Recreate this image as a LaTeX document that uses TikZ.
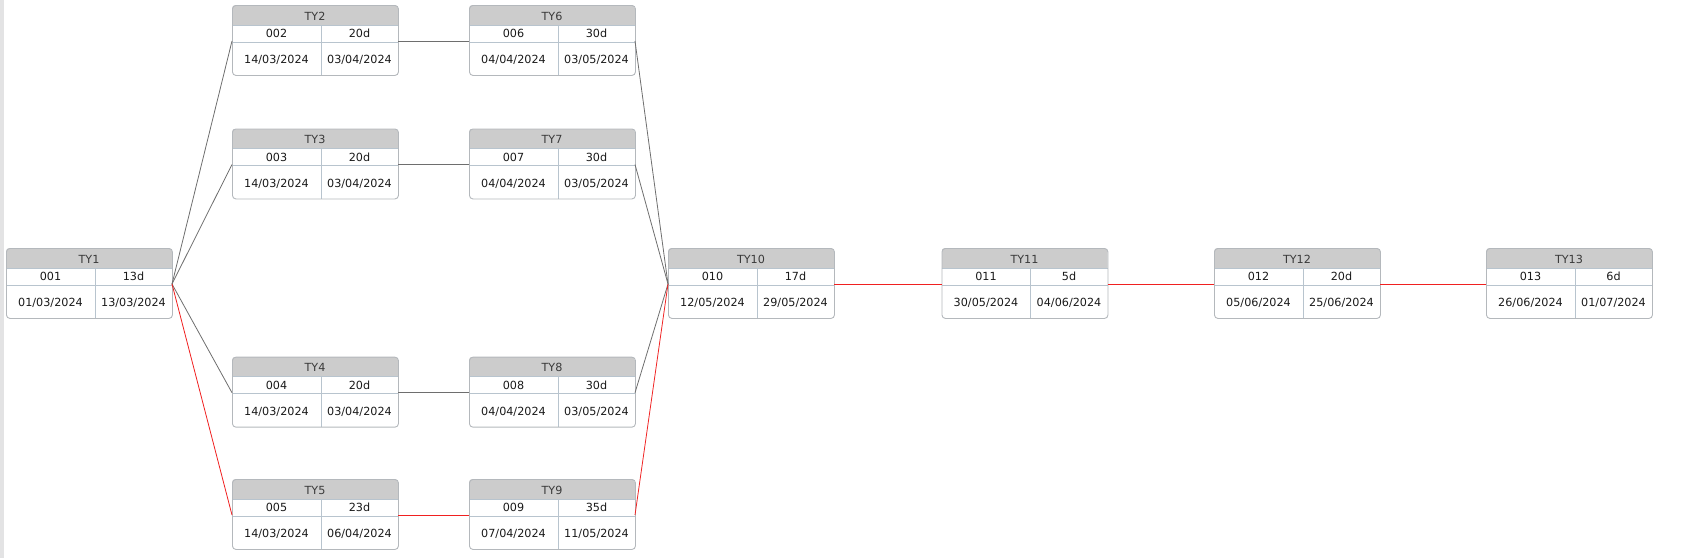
\documentclass[tikz,border=0pt]{standalone}
\usepackage{fontspec}
\setmainfont{DejaVu Sans}
\definecolor{hdrfill}{HTML}{CCCCCC}
\definecolor{framecol}{HTML}{B4B8BC}
\definecolor{divcol}{HTML}{B8C4CE}
\definecolor{txtcol}{HTML}{1A1A1A}
\definecolor{hdrtxt}{HTML}{3A3A3A}
\definecolor{linkgray}{HTML}{6E6E6E}
\definecolor{linkred}{HTML}{F02020}
\definecolor{stripcol}{HTML}{E3E3E4}
\tikzset{
  taskframe/.style={draw=framecol, line width=0.9pt, rounded corners=3.5pt, inner sep=0pt,
    minimum width=166pt, minimum height=70pt, anchor=north west},
  divline/.style={draw=divcol, line width=0.9pt},
  celltext/.style={font=\fontsize{11.2}{12}\selectfont, text=txtcol, inner sep=0pt},
  headtext/.style={font=\fontsize{11.2}{12}\selectfont, text=hdrtxt, inner sep=0pt},
  graylink/.style={draw=linkgray, line width=0.8pt},
  redlink/.style={draw=linkred, line width=0.8pt},
}
\newcommand{\taskbox}[8]{%
  \begin{scope}
    \clip[rounded corners=3.5pt] (#2,#3) rectangle ++(166,70);
    \fill[white] (#2,#3) rectangle ++(166,70);
    \fill[hdrfill] (#2,#3) rectangle ++(166,20);
  \end{scope}
  \draw[divline] (#2,#3+20) -- ++(166,0);
  \draw[divline] (#2,#3+37) -- ++(166,0);
  \draw[divline] (#2+89,#3+20) -- ++(0,50);
  \node[taskframe] (#1) at (#2,#3) {};
  \node[headtext] (#1-t) at (#2+83,#3+11) {#4};
  \node[celltext] (#1-id) at (#2+44.5,#3+28.7) {#5};
  \node[celltext] (#1-d) at (#2+127.5,#3+28.7) {#6};
  \node[celltext] (#1-s) at (#2+44.5,#3+55.2) {#7};
  \node[celltext] (#1-e) at (#2+127.5,#3+55.2) {#8};
  \coordinate (#1-in) at (#2,#3+36);
  \coordinate (#1-out) at (#2+166,#3+36);
}
\begin{document}
\begin{tikzpicture}[x=1pt,y=-1pt]
  \useasboundingbox (0,0) rectangle (1685,558);
  \fill[stripcol] (0,0) rectangle (4,558);

  \taskbox{t1}{6}{248}{TY1}{001}{13d}{01/03/2024}{13/03/2024}
  \taskbox{t2}{232}{5}{TY2}{002}{20d}{14/03/2024}{03/04/2024}
  \taskbox{t3}{232}{128.5}{TY3}{003}{20d}{14/03/2024}{03/04/2024}
  \taskbox{t4}{232}{356.7}{TY4}{004}{20d}{14/03/2024}{03/04/2024}
  \taskbox{t5}{232}{479}{TY5}{005}{23d}{14/03/2024}{06/04/2024}
  \taskbox{t6}{469}{5}{TY6}{006}{30d}{04/04/2024}{03/05/2024}
  \taskbox{t7}{469}{128.5}{TY7}{007}{30d}{04/04/2024}{03/05/2024}
  \taskbox{t8}{469}{356.7}{TY8}{008}{30d}{04/04/2024}{03/05/2024}
  \taskbox{t9}{469}{479}{TY9}{009}{35d}{07/04/2024}{11/05/2024}
  \taskbox{t10}{668}{248}{TY10}{010}{17d}{12/05/2024}{29/05/2024}
  \taskbox{t11}{941.5}{248}{TY11}{011}{5d}{30/05/2024}{04/06/2024}
  \taskbox{t12}{1214}{248}{TY12}{012}{20d}{05/06/2024}{25/06/2024}
  \taskbox{t13}{1486}{248}{TY13}{013}{6d}{26/06/2024}{01/07/2024}

  \draw[graylink] (t1-out) -- (t2-in);
  \draw[graylink] (t1-out) -- (t3-in);
  \draw[graylink] (t1-out) -- (t4-in);
  \draw[redlink] (t1-out) -- (t5-in);
  \draw[graylink] (t2-out) -- (t6-in);
  \draw[graylink] (t3-out) -- (t7-in);
  \draw[graylink] (t4-out) -- (t8-in);
  \draw[redlink] (t5-out) -- (t9-in);
  \draw[graylink] (t6-out) -- (t10-in);
  \draw[graylink] (t7-out) -- (t10-in);
  \draw[graylink] (t8-out) -- (t10-in);
  \draw[redlink] (t9-out) -- (t10-in);
  \draw[redlink] (t10-out) -- (t11-in);
  \draw[redlink] (t11-out) -- (t12-in);
  \draw[redlink] (t12-out) -- (t13-in);
\end{tikzpicture}
\end{document}
